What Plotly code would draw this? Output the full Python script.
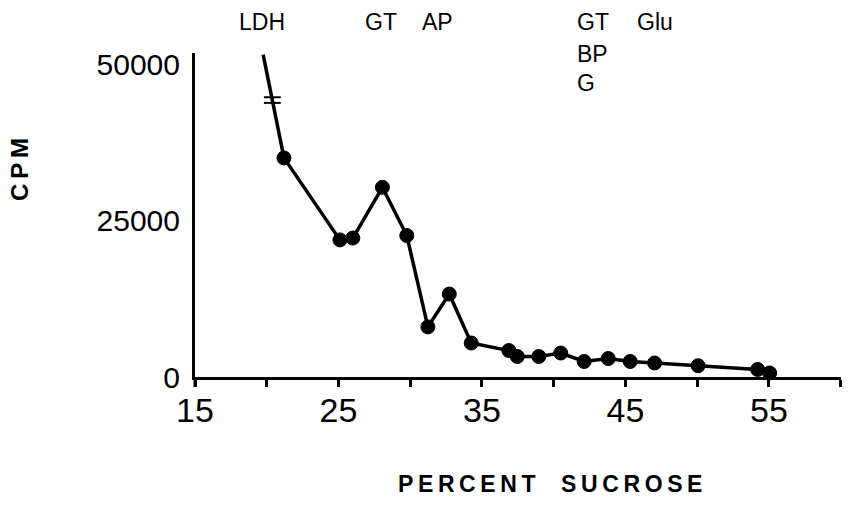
import plotly.graph_objects as go

# Sucrose gradient fractions: percent sucrose vs. radioactivity (CPM)
lead_sucrose = 19.75          # curve enters from off-scale above the axis
lead_cpm = 51500
sucrose = [21.2, 25.1, 26.0, 28.06, 29.76, 31.23, 32.72, 34.25, 36.87, 37.46,
           38.96, 40.49, 42.12, 43.80, 45.33, 47.03, 50.06, 54.21, 55.05]
cpm = [35000, 21900, 22200, 30300, 22600, 8000, 13250, 5430, 4230, 3270,
       3270, 3830, 2480, 2950, 2480, 2240, 1800, 1200, 640]

# Marker fraction labels along the top
top_labels = ["LDH", "GT", "AP", "GT", "BP", "G", "Glu"]
top_label_x = [17.92, 26.70, 30.67, 41.46, 41.46, 41.46, 45.64]
top_label_row = [0, 0, 0, 0, 1, 2, 0]

x_ticks = [15, 25, 35, 45, 55]
y_ticks = [0, 25000, 50000]

FONT = "Liberation Sans, Arial, Helvetica, sans-serif"

fig = go.Figure()

# connecting line, including the off-scale entry
fig.add_trace(go.Scatter(
    x=[lead_sucrose] + sucrose, y=[lead_cpm] + cpm, mode="lines",
    line=dict(color="black", width=3.5),
    cliponaxis=True, showlegend=False,
))
# measured fractions
fig.add_trace(go.Scatter(
    x=sucrose, y=cpm, mode="markers",
    marker=dict(color="black", size=14, opacity=1,
                line=dict(color="black", width=1)),
    cliponaxis=False, showlegend=False,
))

# axis-break mark on the off-scale segment
frac = 0.44
bx = lead_sucrose + frac * (sucrose[0] - lead_sucrose)
by = lead_cpm + frac * (cpm[0] - lead_cpm)
fig.add_trace(go.Scatter(
    x=[bx, bx], y=[by + 450, by - 450], mode="markers",
    marker=dict(symbol="line-ew-open", size=12, color="black",
                line=dict(color="black", width=2)),
    showlegend=False, cliponaxis=False,
))

row_y = [1.096, 0.998, 0.906]
for txt, xv, r in zip(top_labels, top_label_x, top_label_row):
    fig.add_annotation(
        x=xv, y=row_y[r], xref="x", yref="paper", text=txt,
        showarrow=False, xanchor="left", yanchor="middle",
        font=dict(family=FONT, size=23, color="black"),
    )

fig.add_annotation(
    x=(19 - 195) / 646, y=(377 - 170) / 324, xref="paper", yref="paper",
    text="C\u2009P\u2009M",
    showarrow=False, textangle=-90, xanchor="center", yanchor="middle",
    font=dict(family=FONT, size=24, color="black", weight="bold"),
)

title_x = "\u2009".join("PERCENT") + "\u00a0\u00a0\u00a0\u00a0" + "\u2009".join("SUCROSE")
fig.add_annotation(
    x=(550 - 195) / 646, y=(377 - 484) / 324, xref="paper", yref="paper",
    text=title_x, showarrow=False, xanchor="center", yanchor="middle",
    font=dict(family=FONT, size=23, color="black", weight="bold"),
)

# y-axis line carried slightly below the x-axis
fig.add_shape(type="line", xref="paper", yref="paper",
              x0=0, x1=0, y0=0, y1=-10 / 324,
              line=dict(color="black", width=3))

fig.update_xaxes(
    range=[15, 60.02], showgrid=False, zeroline=False,
    showline=True, linecolor="black", linewidth=3,
    tickmode="array", tickvals=x_ticks, ticktext=[str(v) for v in x_ticks],
    ticks="outside", ticklen=7, tickwidth=3, tickcolor="black",
    minor=dict(dtick=5, tick0=15, ticks="outside", ticklen=7, tickwidth=3,
               tickcolor="black", showgrid=False),
    tickfont=dict(family=FONT, size=34, color="black"),
    ticklabelstandoff=-6,
)
fig.update_yaxes(
    range=[0, 51760], showgrid=False, zeroline=False,
    showline=True, linecolor="black", linewidth=3,
    tickmode="array", tickvals=y_ticks, ticktext=[str(v) for v in y_ticks],
    ticks="", tickfont=dict(family=FONT, size=30, color="black"),
    ticklabelstandoff=6,
)

fig.update_layout(
    width=848, height=510,
    margin=dict(l=195, r=7, t=53, b=133),
    paper_bgcolor="white", plot_bgcolor="white",
    showlegend=False,
)

fig.write_html("out.html")
